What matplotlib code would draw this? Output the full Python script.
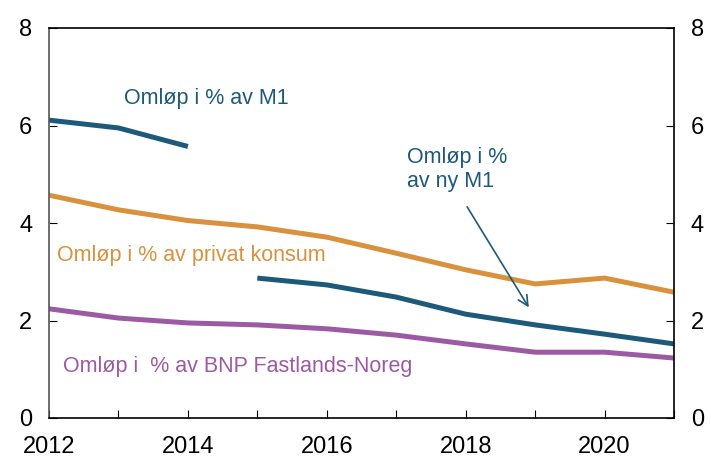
import matplotlib
matplotlib.use("Agg")
import matplotlib.pyplot as plt

plt.rcParams['font.family'] = ['Liberation Sans', 'DejaVu Sans']

years_m1 = [2012, 2013, 2014]
m1 = [6.11, 5.95, 5.57]

years = [2012, 2013, 2014, 2015, 2016, 2017, 2018, 2019, 2020, 2021]
konsum = [4.57, 4.27, 4.05, 3.92, 3.71, 3.38, 3.04, 2.75, 2.87, 2.58]
bnp = [2.24, 2.05, 1.95, 1.91, 1.83, 1.70, 1.52, 1.35, 1.35, 1.23]

years_ny = [2015, 2016, 2017, 2018, 2019, 2020, 2021]
ny_m1 = [2.87, 2.73, 2.48, 2.13, 1.91, 1.72, 1.52]

blue = '#1d5a7a'
orange = '#d9913d'
purple = '#9c5aa5'

fig = plt.figure(figsize=(7.11, 4.58), dpi=100)
ax = fig.add_axes([49/711, 40/458, 625/711, 390/458])

ax.plot(years_m1, m1, color=blue, lw=3.6, solid_capstyle='butt')
ax.plot(years, konsum, color=orange, lw=3.6, solid_capstyle='butt')
ax.plot(years_ny, ny_m1, color=blue, lw=3.6, solid_capstyle='butt')
ax.plot(years, bnp, color=purple, lw=3.6, solid_capstyle='butt')

ax.set_xlim(2012, 2021)
ax.set_ylim(0, 8)
ax.set_xticks(range(2012, 2022))
ax.set_xticklabels([str(y) if y % 2 == 0 else '' for y in range(2012, 2022)])
ax.set_yticks([0, 2, 4, 6, 8])
ax.tick_params(axis='x', direction='in', length=6, labelsize=17, pad=13)
ax.tick_params(axis='y', direction='in', length=6, labelsize=17, pad=12,
               right=True, labelright=True)
ax.spines['left'].set_color('#555555')
for s in ax.spines.values():
    s.set_linewidth(1.2)

fs = 15.5
ax.text(2013.08, 6.55, 'Omløp i % av M1', color=blue, fontsize=fs, va='center')
ax.text(2012.12, 3.33, 'Omløp i % av privat konsum', color=orange, fontsize=fs, va='center')
ax.text(2012.2, 1.05, 'Omløp i  % av BNP Fastlands-Noreg', color=purple, fontsize=fs, va='center')
ax.text(2017.15, 5.1, 'Omløp i %\nav ny M1', color=blue, fontsize=fs, va='center',
        linespacing=1.15)
ax.annotate('', xy=(2018.93, 2.22), xytext=(2018.0, 4.38),
            arrowprops=dict(arrowstyle='->', color=blue, lw=1.2, mutation_scale=18))

fig.savefig('out.png', dpi=100)
